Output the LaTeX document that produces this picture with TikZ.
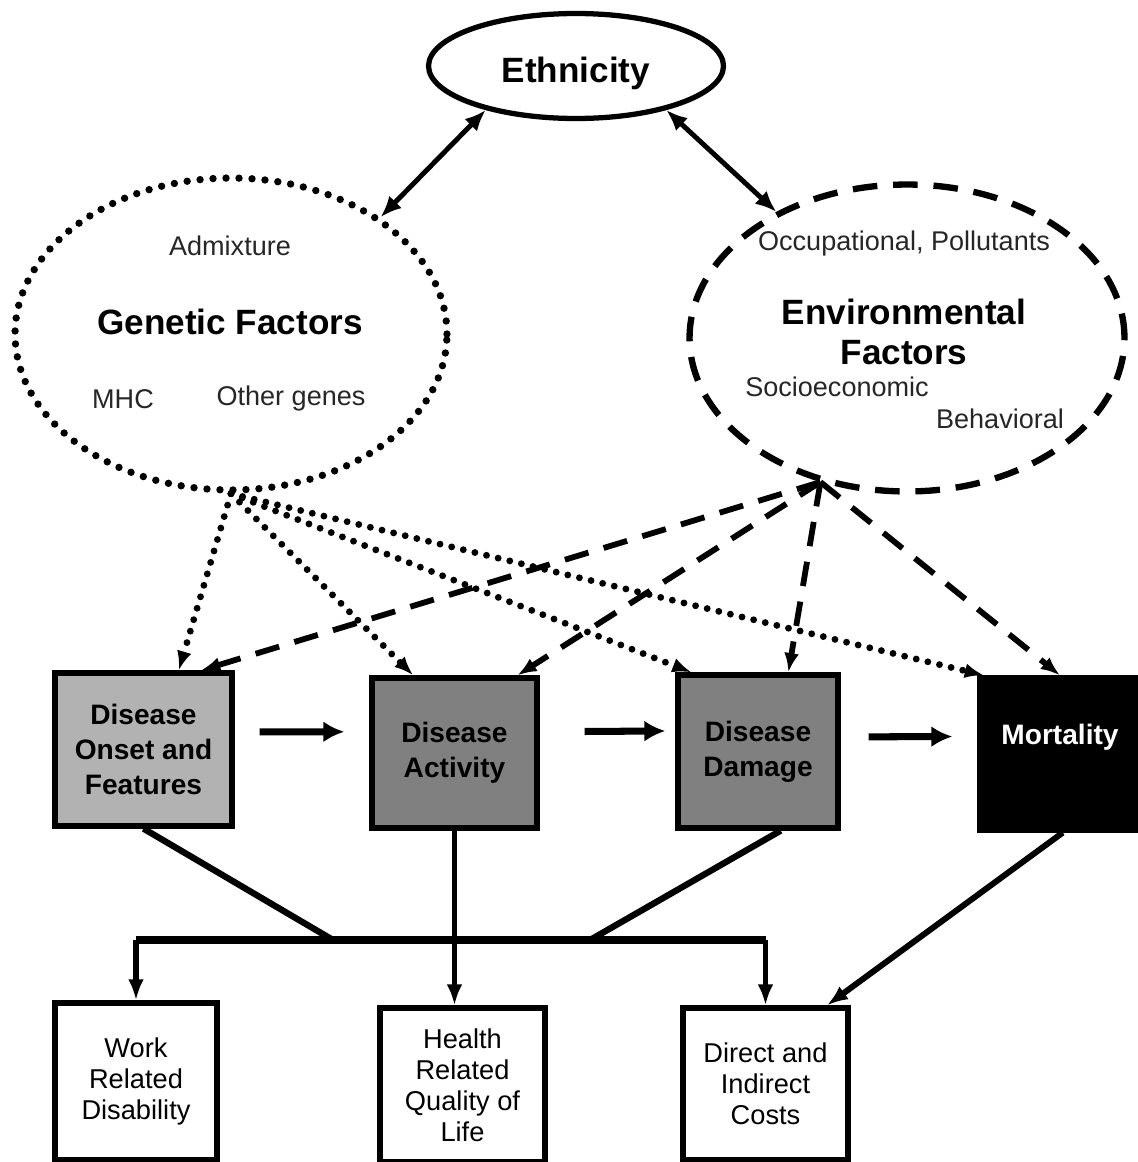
\documentclass[tikz,border=0pt]{standalone}
\usepackage{fontspec}
\setmainfont{Liberation Sans}
\usepackage{tikz}
\usetikzlibrary{positioning,arrows.meta,shapes.geometric,calc}

\tikzset{
  titletext/.style={font=\fontsize{20}{23}\selectfont\bfseries, align=center},
  smalltext/.style={font=\fontsize{15.4}{18}\selectfont, text=black!85},
  disbox/.style={draw, line width=3pt, inner sep=0pt, font=\fontsize{16}{20}\selectfont\bfseries, align=center},
  outbox/.style={draw, line width=3pt, inner sep=0pt, fill=white, font=\fontsize{15.5}{17.7}\selectfont, align=center},
  genring/.style={draw, ellipse, inner sep=0pt, line width=4.2pt, line cap=round, dash pattern=on 0pt off 7.4pt},
  envring/.style={draw, ellipse, inner sep=0pt, line width=3.6pt, dash pattern=on 14pt off 9pt},
  ethline/.style={line width=2.8pt, {Latex[length=12pt,width=10pt]}-{Latex[length=12pt,width=10pt]}},
  genline/.style={line width=3.9pt, line cap=round, dash pattern=on 0pt off 6.8pt, -{Latex[length=11pt,width=8.5pt]}},
  envline/.style={line width=3.3pt, dash pattern=on 14pt off 9pt, -{Latex[length=11pt,width=8.5pt]}},
  stepline/.style={line width=4pt, -{Latex[length=12pt,width=12pt]}},
  linkline/.style={line width=3.6pt},
  barline/.style={line width=5pt},
  downline/.style={line width=3pt, -{Latex[length=12pt,width=9pt]}}
}

\begin{document}
\begin{tikzpicture}[x=0.02cm, y=-0.02cm]
  \useasboundingbox (0,0) rectangle (1138,1162);
  % top: ethnicity and the two factor groups
  \node[draw, ellipse, line width=3pt, inner sep=0pt, minimum width=5.9cm, minimum height=2.1cm] (eth) at (576,66) {};
  \node[titletext] (ethtext) at (576,73) {Ethnicity};
  \node[genring, minimum width=8.64cm, minimum height=6.24cm] (gen) at (231,334) {};
  \node[smalltext] (admix) at (230,246) {Admixture};
  \node[titletext] (gentitle) at (230,322) {Genetic Factors};
  \node[smalltext] (mhc) at (123,399) {MHC};
  \node[smalltext] (other) at (291,399) {Other genes};
  \node[envring, minimum width=8.7cm, minimum height=6.14cm] (env) at (907,338) {};
  \node[smalltext] (occ) at (904,244) {Occupational, Pollutants};
  \node[titletext] (envtitle) at (904,332) {Environmental\\Factors};
  \node[smalltext] (socio) at (837,387) {Socioeconomic};
  \node[smalltext] (behav) at (1000,419) {Behavioral};
  \draw[ethline] (eth.206) -- (gen.38);
  \draw[ethline] (eth.334) -- (env.136);
  % disease course
  \node[disbox, fill=black!30, minimum width=3.54cm, minimum height=3.06cm] (onset) at (143.5,749.5) {Disease\\Onset and\\Features};
  \node[disbox, fill=black!50, minimum width=3.3cm, minimum height=3cm] (act) at (454.5,753) {Disease\\Activity};
  \node[disbox, fill=black!50, minimum width=3.2cm, minimum height=3.06cm] (dam) at (758,751.5) {Disease\\Damage};
  \node[disbox, fill=black, minimum width=3.2cm, minimum height=3.04cm] (mort) at (1060,754) {};
  \node[font=\fontsize{16}{20}\selectfont\bfseries, text=white] (morttext) at (1060,737) {Mortality};
  \draw[stepline, shorten <=0.5cm, shorten >=0.5cm] (onset.11) -- (act.166);
  \draw[stepline, shorten <=0.9cm, shorten >=0.2cm] (act.14) -- (dam.166);
  \draw[stepline, shorten <=0.56cm, shorten >=0.5cm] (dam.10) -- (mort.168);
  % factors acting on each stage
  \foreach \b/\a in {onset/66, act/118, dam/130, mort/134}
    \draw[genline] (gen.270) -- (\b.\a);
  \foreach \b/\a in {onset/54, act/51, dam/69, mort/90}
    \draw[envline] (env.239) -- (\b.\a);
  % outcomes
  \node[outbox, minimum width=3.24cm, minimum height=3.14cm] (work) at (136,1081.5) {Work\\Related\\Disability};
  \node[outbox, minimum width=3.3cm, minimum height=3.08cm] (health) at (462.5,1085) {Health\\Related\\Quality of\\Life};
  \node[outbox, minimum width=3.3cm, minimum height=3.04cm] (costs) at (765.5,1084) {Direct and\\Indirect\\Costs};
  \coordinate (jl) at (333,940);
  \coordinate (jr) at (590,940);
  \draw[linkline] (onset.south) -- (jl);
  \draw[linkline] (dam.-74) -- (jr);
  \draw[barline] (work.north |- jl) -- (costs.north |- jl);
  \draw[downline] (work.north |- jl) -- (work.north);
  \draw[downline] (costs.north |- jl) -- (costs.north);
  \draw[downline] (act.south) -- (act.south |- health.north);
  \draw[downline, line width=3.4pt] (mort.-88) -- (costs.52);
\end{tikzpicture}
\end{document}
